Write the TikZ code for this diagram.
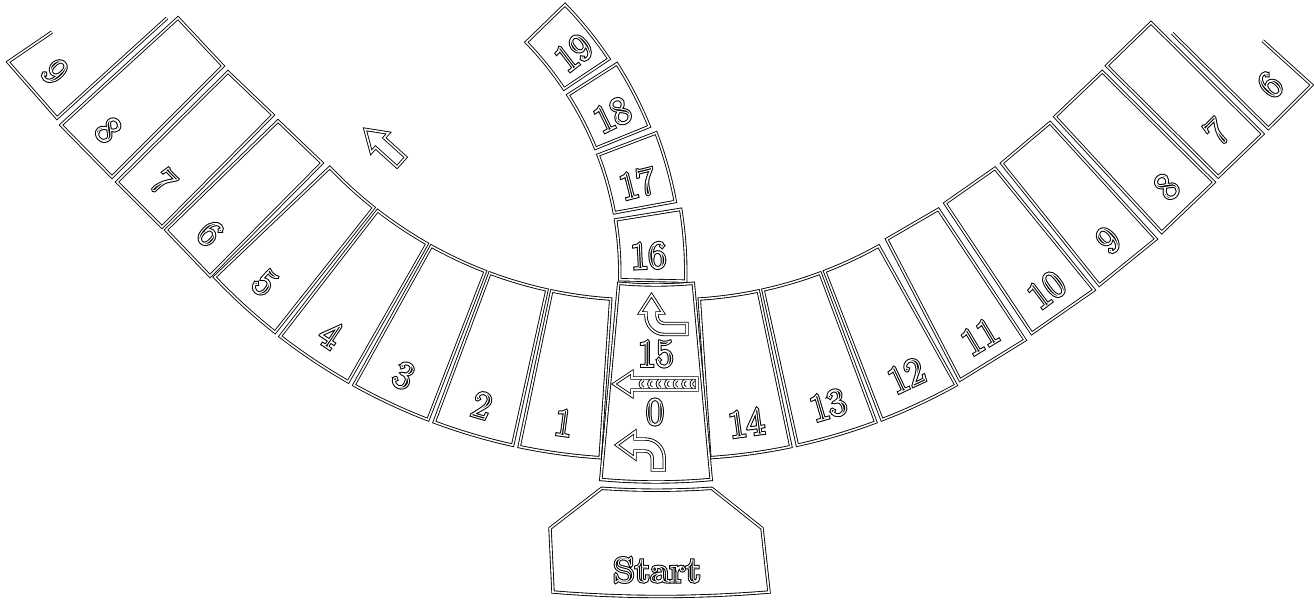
\documentclass[tikz,border=0pt]{standalone}
\usetikzlibrary{calc}

% outlined text: black stroke, then a thin white stroke on top
\newcommand{\hollow}[1]{%
  \special{pdf:literal direct 1 Tr 1.7 w}\rlap{#1}%
  \special{pdf:literal direct 1 G 0.55 w}#1%
  \special{pdf:literal direct 0 G 0 Tr}}

\tikzset{
  cell/.style={draw, double, double distance=0.9pt, line width=0.5pt},
  num/.style={inner sep=0pt, font=\fontsize{22}{22}\selectfont},
}

\begin{document}
\begin{tikzpicture}[x=0.02cm, y=-0.02cm]
  \useasboundingbox (0,0) rectangle (1314,600);
  % --- Left arm, curved (1-5) ---
  \foreach \k in {1,...,5} {
    \pgfmathsetmacro{\angA}{93.8+8.65*(\k-1)}
    \pgfmathsetmacro{\angB}{\angA+8}
    \pgfmathsetmacro{\angM}{\angA+4}
    \draw[cell, shift={(639,-127)}]
      (\angA:427) arc[start angle=\angA, end angle=\angB, radius=427] --
      (\angB:586) arc[start angle=\angB, end angle=\angA, radius=586] -- cycle;
    \node[num, rotate=90-\angM] (l\k) at ($(639,-127)+(\angM:555)$) {\hollow{\k}};
  }
  % --- Left arm, straight (6-9) ---
  \draw[cell] (210,276) -- (166,230) -- (278,121) -- (322,163) -- cycle;
  \node[num, rotate=-45] (l6) at (210,233.3) {\hollow{6}};
  \draw[cell] (162,227) -- (117,182) -- (228,72) -- (273,115) -- cycle;
  \node[num, rotate=-45] (l7) at (163.3,181.7) {\hollow{7}};
  \draw[cell] (112,177) -- (61,125) -- (178,18) -- (223,66) -- cycle;
  \node[num, rotate=-47] (l8) at (108.3,130) {\hollow{8}};
  \draw[cell] (52,32) -- (8,62) -- (57,118) -- (167,18);
  \node[num, rotate=-48] (l9) at (55,71.7) {\hollow{9}};
  % --- Right arm, curved (14-12) ---
  \foreach \k in {1,...,3} {
    \pgfmathsetmacro{\angA}{86.2-8.65*(\k-1)}
    \pgfmathsetmacro{\angB}{\angA-8}
    \pgfmathsetmacro{\angM}{\angA-4}
    \pgfmathtruncatemacro{\lab}{15-\k}
    \draw[cell, shift={(671,-127)}]
      (\angA:427) arc[start angle=\angA, end angle=\angB, radius=427] --
      (\angB:586) arc[start angle=\angB, end angle=\angA, radius=586] -- cycle;
    \node[num, rotate=90-\angM] (r\lab) at ($(671,-127)+(\angM:555)$) {\hollow{\lab}};
  }
  % --- Right arm, outer part (11-6) ---
  \draw[cell] (886.7,239.3) -- (938.3,209.3) -- (1025,340) -- (960,380) -- cycle;
  \node[num, rotate=31] (r11) at (980,336.7) {\hollow{11}};
  \draw[cell] (945,203.3) -- (995,168.3) -- (1094,290) -- (1031.7,333.3) -- cycle;
  \node[num, rotate=37] (r10) at (1046.7,290) {\hollow{10}};
  \draw[cell] (1001.7,163.3) -- (1050,122.7) -- (1156,239) -- (1099.3,285) -- cycle;
  \node[num, rotate=42] (r9) at (1108.3,240) {\hollow{9}};
  \draw[cell] (1055,116.7) -- (1102.3,71.7) -- (1214,182.3) -- (1161.7,232.3) -- cycle;
  \node[num, rotate=44] (r8) at (1166.7,186.7) {\hollow{8}};
  \draw[cell] (1106.7,65.7) -- (1151,22.7) -- (1262.7,134) -- (1218.3,176.7) -- cycle;
  \node[num, rotate=45] (r7) at (1216.7,131.7) {\hollow{7}};
  \draw[cell] (1172.3,33.3) -- (1268.3,128.3) -- (1311.7,85) -- (1262.7,40.7);
  \node[num, rotate=45] (r6) at (1270,85) {\hollow{6}};
  % --- Upper column (16-19) ---
  \foreach \n [count=\i] in {16,...,19} {
    \pgfmathsetmacro{\angA}{1.2-11.65*(\i-1)}
    \pgfmathsetmacro{\angB}{\angA-10.4}
    \pgfmathsetmacro{\angM}{\angA-3.9}
    \pgfmathsetmacro{\rOut}{401-4*\i}
    \draw[cell, shift={(288.8,272.8)}]
      (\angA:331) arc[start angle=\angA, end angle=\angB, radius=331] --
      (\angB:\rOut) arc[start angle=\angB, end angle=\angA, radius=\rOut] -- cycle;
    \node[num, rotate=-\angM] (c\n) at ($(288.8,272.8)+(\angM:360)$) {\hollow{\n}};
  }
  % --- Middle cell (0 / 15) ---
  \draw[cell, shift={(656,-127)}]
    (84.8:412) arc[start angle=84.8, end angle=95.2, radius=412] --
    (95.2:609) arc[start angle=95.2, end angle=84.8, radius=609] -- cycle;
  \node[num] (c15) at (655.7,354) {\hollow{15}};
  \node[num] (c0) at (655,412) {\hollow{0}};
  % turn arrows
  \draw[cell] (651.5,295) -- (663,313) -- (657,313) -- (657,316)
    arc[start angle=180, end angle=90, radius=7.5] -- (687,323.5) -- (687,334.5)
    -- (664.5,334.5) arc[start angle=90, end angle=180, radius=18.5] -- (646,313)
    -- (640,313) -- cycle;
  \draw[cell] (616.7,445) -- (635,431.7) -- (635,439) -- (645.2,439)
    arc[start angle=270, end angle=360, radius=19] -- (664.2,470) -- (652.2,470)
    -- (652.2,458) arc[start angle=0, end angle=-90, radius=7] -- (635,451)
    -- (635,458.3) -- cycle;
  % return arrow
  \draw[cell] (614,384) -- (632,372) -- (632,378) -- (697,378) -- (697,390)
    -- (632,390) -- (632,396) -- cycle;
  \foreach \i in {0,...,6} {
    \pgfmathsetmacro{\xc}{640+8.5*\i}
    \draw[cell] (\xc+3,380) .. controls (\xc-0.5,382) and (\xc-0.5,386) .. (\xc+3,388);
  }
  % --- Direction arrow ---
  \draw[cell, shift={(365,129.3)}, rotate=-42]
    (0,0) -- (20,-13) -- (20,-6.5) -- (49,-6.5) -- (49,6.5) -- (20,6.5) -- (20,13) -- cycle;
  % --- Start ---
  \draw[cell] (601.7,488.3) .. controls (638,490.8) and (675,490.8) .. (711.7,488.3)
    -- (762,528.3) -- (769,592) .. controls (697,598) and (625,598) .. (553,592)
    -- (550,528.3) -- cycle;
  \node[inner sep=0pt, font=\fontsize{20}{20}\selectfont\bfseries] (start) at (657,570) {\hollow{Start}};
\end{tikzpicture}
\end{document}
